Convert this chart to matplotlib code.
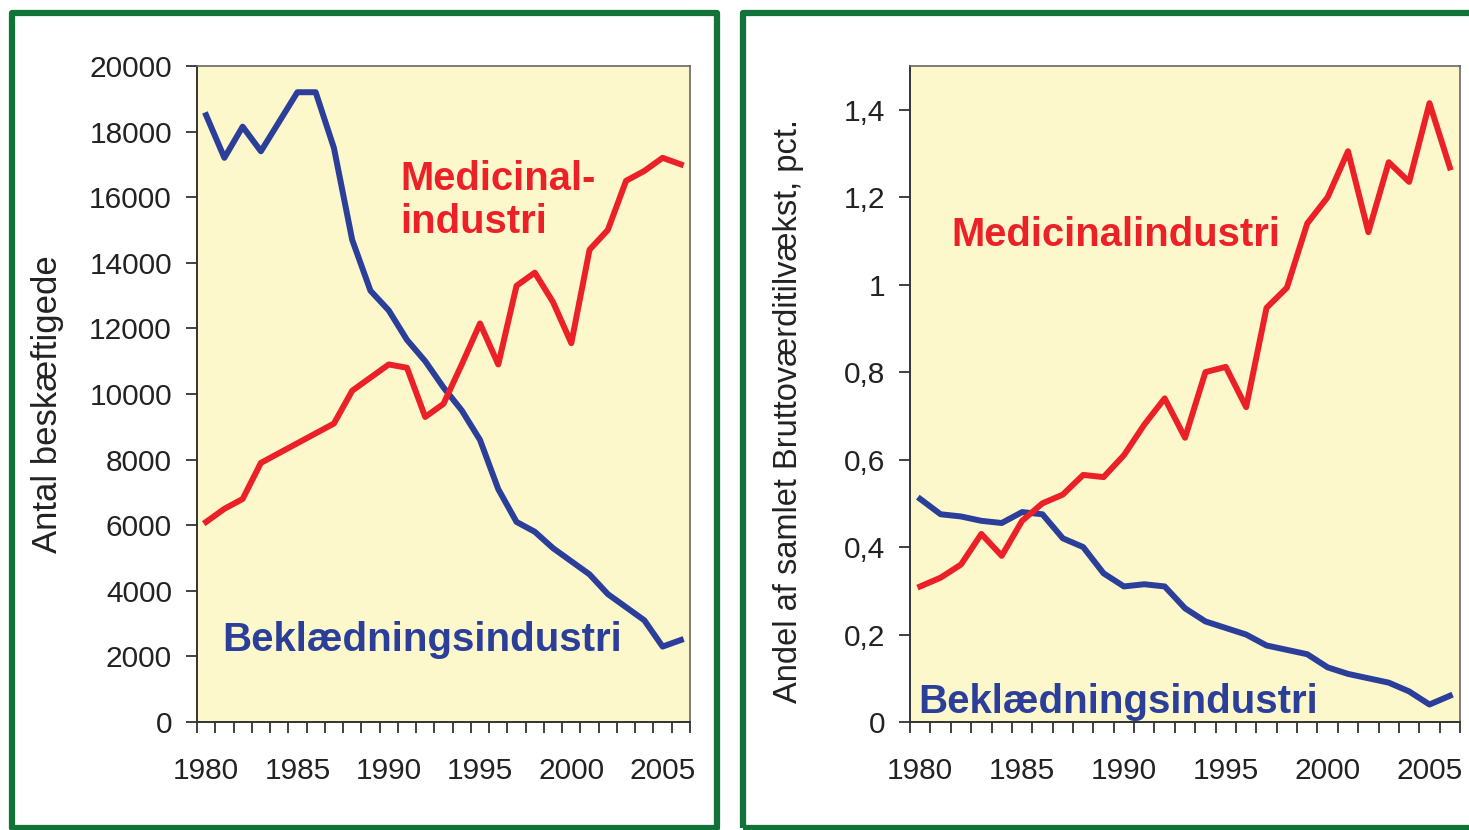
import matplotlib
matplotlib.use("Agg")
import matplotlib.pyplot as plt
from matplotlib.patches import Rectangle
from matplotlib.ticker import MultipleLocator, FixedLocator, FuncFormatter
import numpy as np

# ---------------------------------------------------------------
# Données
# ---------------------------------------------------------------
years = list(range(1980, 2007))

# Antal beskæftigede
bekl_ansatte = [18500, 17200, 18150, 17400, 18300, 19200, 19200, 17500, 14700,
                13150, 12550, 11650, 11000, 10200, 9500, 8600, 7100, 6100,
                5800, 5300, 4900, 4500, 3900, 3500, 3100, 2300, 2500]
medi_ansatte = [6100, 6500, 6800, 7900, 8200, 8500, 8800, 9100, 10100, 10500,
                10900, 10800, 9300, 9700, 10900, 12150, 10900, 13300, 13700,
                12800, 11550, 14400, 15000, 16500, 16800, 17200, 17000]

# Andel af samlet bruttoværditilvækst, pct.
bekl_andel = [0.51, 0.475, 0.47, 0.46, 0.455, 0.48, 0.475, 0.42, 0.40, 0.34,
              0.31, 0.315, 0.31, 0.26, 0.23, 0.215, 0.20, 0.175, 0.165, 0.155,
              0.125, 0.11, 0.10, 0.09, 0.07, 0.04, 0.06]
medi_andel = [0.31, 0.33, 0.36, 0.43, 0.38, 0.46, 0.50, 0.52, 0.565, 0.56,
              0.61, 0.68, 0.74, 0.65, 0.80, 0.812, 0.72, 0.947, 0.993, 1.14,
              1.20, 1.305, 1.12, 1.28, 1.235, 1.415, 1.268]

year_labels = [1980, 1985, 1990, 1995, 2000, 2005]

# ---------------------------------------------------------------
# Style
# ---------------------------------------------------------------
plt.rcParams['font.family'] = ['Liberation Sans', 'DejaVu Sans']
BLUE = '#2b3f9a'
RED = '#ec2128'
GREEN = '#127339'
BG = '#fcf8cc'
TXT = '#222222'

fig = plt.figure(figsize=(14.69, 8.30), dpi=100)

ax1 = fig.add_axes([0.1341, 0.1301, 0.3356, 0.7904])
ax2 = fig.add_axes([0.6195, 0.1301, 0.3744, 0.7904])


def style_axis(ax):
    ax.set_facecolor(BG)
    ax.set_xlim(1979.5, 2006.5)
    for s in ['left', 'bottom']:
        ax.spines[s].set_color('#333333')
        ax.spines[s].set_linewidth(1.4)
    for s in ['top', 'right']:
        ax.spines[s].set_color('#666666')
        ax.spines[s].set_linewidth(1.2)
    # étiquettes au centre des années, graduations entre les années
    ax.xaxis.set_major_locator(FixedLocator(year_labels))
    ax.xaxis.set_minor_locator(FixedLocator(np.arange(1979.5, 2007, 1.0)))
    ax.tick_params(axis='x', which='major', length=0, pad=25,
                   labelsize=21.5, labelcolor=TXT)
    ax.tick_params(axis='x', which='minor', length=8, width=1.3,
                   color='#333333', direction='out')
    ax.tick_params(axis='y', which='major', length=8, width=1.3,
                   color='#333333', pad=10, labelsize=21.5, labelcolor=TXT)


# --- Panneau gauche : emploi
style_axis(ax1)
ax1.plot(years, bekl_ansatte, color=BLUE, lw=4.3, solid_joinstyle='round')
ax1.plot(years, medi_ansatte, color=RED, lw=4.3, solid_joinstyle='round')
ax1.set_ylim(0, 20000)
ax1.yaxis.set_major_locator(MultipleLocator(2000))
ax1.set_ylabel('Antal beskæftigede', fontsize=25, color=TXT)
ax1.yaxis.set_label_coords(-0.27, 0.485)

ax1.text(0.412, 0.811, 'Medicinal-', transform=ax1.transAxes, color=RED,
         fontsize=28.8, fontweight='bold', va='baseline')
ax1.text(0.412, 0.745, 'industri', transform=ax1.transAxes, color=RED,
         fontsize=28.8, fontweight='bold', va='baseline')
ax1.text(0.051, 0.108, 'Beklædningsindustri', transform=ax1.transAxes,
         color=BLUE, fontsize=29, fontweight='bold', va='baseline')

# --- Panneau droit : part de la valeur ajoutée
style_axis(ax2)
ax2.plot(years, bekl_andel, color=BLUE, lw=4.3, solid_joinstyle='round')
ax2.plot(years, medi_andel, color=RED, lw=4.3, solid_joinstyle='round')
ax2.set_ylim(0, 1.5)
ax2.yaxis.set_major_locator(FixedLocator([0, 0.2, 0.4, 0.6, 0.8, 1.0, 1.2, 1.4]))
ax2.yaxis.set_major_formatter(FuncFormatter(
    lambda v, p: ('%g' % round(v, 1)).replace('.', ',')))
ax2.set_ylabel('Andel af samlet Bruttoværditilvækst, pct.', fontsize=23.5,
               color=TXT)
ax2.yaxis.set_label_coords(-0.192, 0.474)

ax2.text(0.076, 0.726, 'Medicinalindustri', transform=ax2.transAxes,
         color=RED, fontsize=28.8, fontweight='bold', va='baseline')
ax2.text(0.0145, 0.014, 'Beklædningsindustri', transform=ax2.transAxes,
         color=BLUE, fontsize=29, fontweight='bold', va='baseline')

# --- Cadres verts autour des deux panneaux
for x0, w in [(0.0082, 0.4799), (0.5058, 0.52)]:
    fig.patches.append(Rectangle((x0, 0.0024), w, 0.982,
                                 transform=fig.transFigure, fill=False,
                                 edgecolor=GREEN, linewidth=4.5,
                                 joinstyle='round'))

fig.savefig('out.png', dpi=100)
